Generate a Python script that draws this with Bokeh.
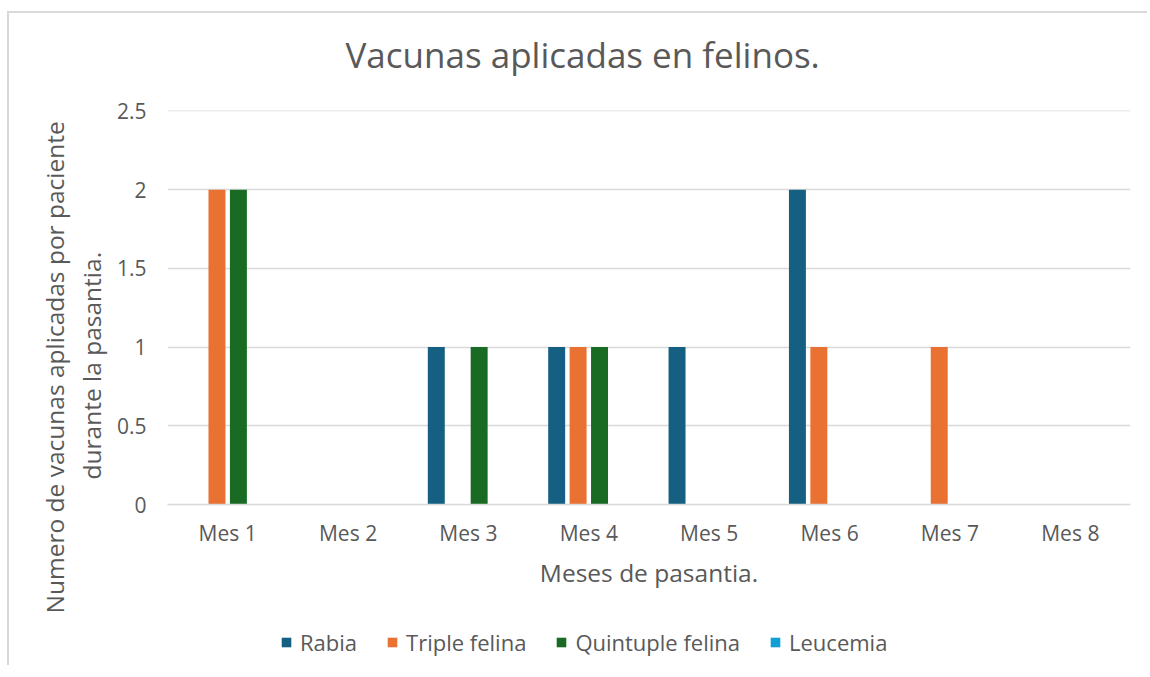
import numpy as np
from bokeh.plotting import figure
from bokeh.layouts import column
from bokeh.models import (ColumnDataSource, FactorRange, Range1d, Legend, LegendItem, Title,
                          FixedTicker, NumeralTickFormatter)
from bokeh.transform import dodge
from bokeh.embed import file_html
from bokeh.resources import INLINE

meses = ["Mes 1", "Mes 2", "Mes 3", "Mes 4", "Mes 5", "Mes 6", "Mes 7", "Mes 8"]
rabia = [0, 0, 1, 1, 1, 2, 0, 0]
triple_felina = [2, 0, 0, 1, 0, 1, 1, 0]
quintuple_felina = [2, 0, 1, 1, 0, 0, 0, 0]
leucemia = [0, 0, 0, 0, 0, 0, 0, 0]
y_ticks = [0, 0.5, 1, 1.5, 2, 2.5]

series_names = ["Rabia", "Triple felina", "Quintuple felina", "Leucemia"]
series_keys = ["rabia", "triple", "quintuple", "leucemia"]
colors = ["#156082", "#E97132", "#196B24", "#0F9ED5"]

source = ColumnDataSource(data=dict(meses=meses, rabia=rabia, triple=triple_felina,
                                    quintuple=quintuple_felina, leucemia=leucemia))

FONT = "Open Sans"
TXT = "#595959"
W = 1138


def blank(fig):
    fig.axis.visible = False
    fig.grid.visible = False
    fig.outline_line_color = None
    fig.border_fill_color = "white"
    fig.background_fill_color = "white"


# ---- title strip ----
t = figure(width=W, height=82, x_range=Range1d(0, 1), y_range=Range1d(0, 1),
           output_backend="svg", toolbar_location=None,
           min_border_left=158, min_border_right=17, min_border_top=69, min_border_bottom=0)
blank(t)
t.title.text = "Vacunas aplicadas en felinos."
t.title.align = "left"
t.title.offset = 178
t.title.text_font = FONT
t.title.text_font_size = "35px"
t.title.text_font_style = "normal"
t.title.text_color = TXT
t.title.standoff = 10

# ---- main chart ----
p = figure(x_range=FactorRange(*meses, range_padding=0), y_range=Range1d(0, 2.503),
           width=W, height=530, output_backend="svg", toolbar_location=None,
           min_border_left=158, min_border_right=17, min_border_top=15, min_border_bottom=121)
p.outline_line_color = None
p.background_fill_color = "white"
p.border_fill_color = "white"

pitch = 0.178
bw = 0.141
for i, (key, col) in enumerate(zip(series_keys, colors)):
    off = (i - 1.5) * pitch
    p.vbar(x=dodge("meses", off, range=p.x_range), top=key, width=bw, source=source,
           fill_color=col, line_color=None)

p.yaxis.ticker = FixedTicker(ticks=y_ticks)
p.yaxis.formatter = NumeralTickFormatter(format="0.[0]")
p.yaxis.axis_line_color = None
p.yaxis.major_tick_line_color = None
p.yaxis.minor_tick_line_color = None
p.yaxis.major_tick_out = 0
p.yaxis.major_label_text_font = FONT
p.yaxis.major_label_text_font_size = "21px"
p.yaxis.major_label_text_color = TXT
p.yaxis.major_label_standoff = 21

p.xaxis.axis_line_color = "#d9d9d9"
p.xaxis.axis_line_width = 1.5
p.xaxis.major_tick_line_color = None
p.xaxis.minor_tick_line_color = None
p.xaxis.major_tick_out = 0
p.xaxis.major_label_text_font = FONT
p.xaxis.major_label_text_font_size = "21px"
p.xaxis.major_label_text_color = TXT
p.xaxis.major_label_standoff = 14
p.xaxis.axis_label = "Meses de pasantia."
p.xaxis.axis_label_text_font = FONT
p.xaxis.axis_label_text_font_size = "24.5px"
p.xaxis.axis_label_text_font_style = "normal"
p.xaxis.axis_label_text_color = TXT
p.xaxis.axis_label_standoff = 6

p.xgrid.grid_line_color = None
p.ygrid.grid_line_color = "#d9d9d9"
p.ygrid.grid_line_width = 1.5

# y axis title: two centred lines (inner line first, nearest the axis)
ytitle_2 = Title(text="durante la pasantia.", align="left", offset=25, standoff=8,
                 vertical_align="top",
                 text_font=FONT, text_font_size="24.5px", text_font_style="normal",
                 text_color=TXT)
ytitle_1 = Title(text="Numero de vacunas aplicadas por paciente", align="left", offset=-109,
                 standoff=0, vertical_align="bottom",
                 text_font=FONT, text_font_size="24.5px", text_font_style="normal",
                 text_color=TXT)
p.add_layout(ytitle_2, "left")
p.add_layout(ytitle_1, "left")

# ---- legend strip ----
q = figure(width=W, height=40, x_range=Range1d(0, 1), y_range=Range1d(0, 1),
           output_backend="svg", toolbar_location=None,
           min_border_left=158, min_border_right=17, min_border_top=0, min_border_bottom=0)
blank(q)
legend_renderers = [q.rect(x=[np.nan], y=[np.nan], width=1, height=1, fill_color=c, line_color=None)
                    for c in colors]
legend = Legend(items=[LegendItem(label=n, renderers=[r]) for n, r in zip(series_names, legend_renderers)],
                orientation="horizontal", location=(113, 8),
                glyph_width=12, glyph_height=12, label_standoff=8, spacing=29,
                padding=0, margin=0, border_line_color=None, background_fill_alpha=0,
                label_text_font=FONT, label_text_font_size="22px", label_text_color=TXT,
                label_height=24)
q.add_layout(legend, "center")

layout = column(t, p, q, spacing=0)
layout.styles = {"margin-left": "7px", "margin-top": "11px",
                 "border-top": "2px solid #d9d9d9", "border-left": "2px solid #d9d9d9"}

open("out.html", "w").write(file_html(layout, INLINE))
